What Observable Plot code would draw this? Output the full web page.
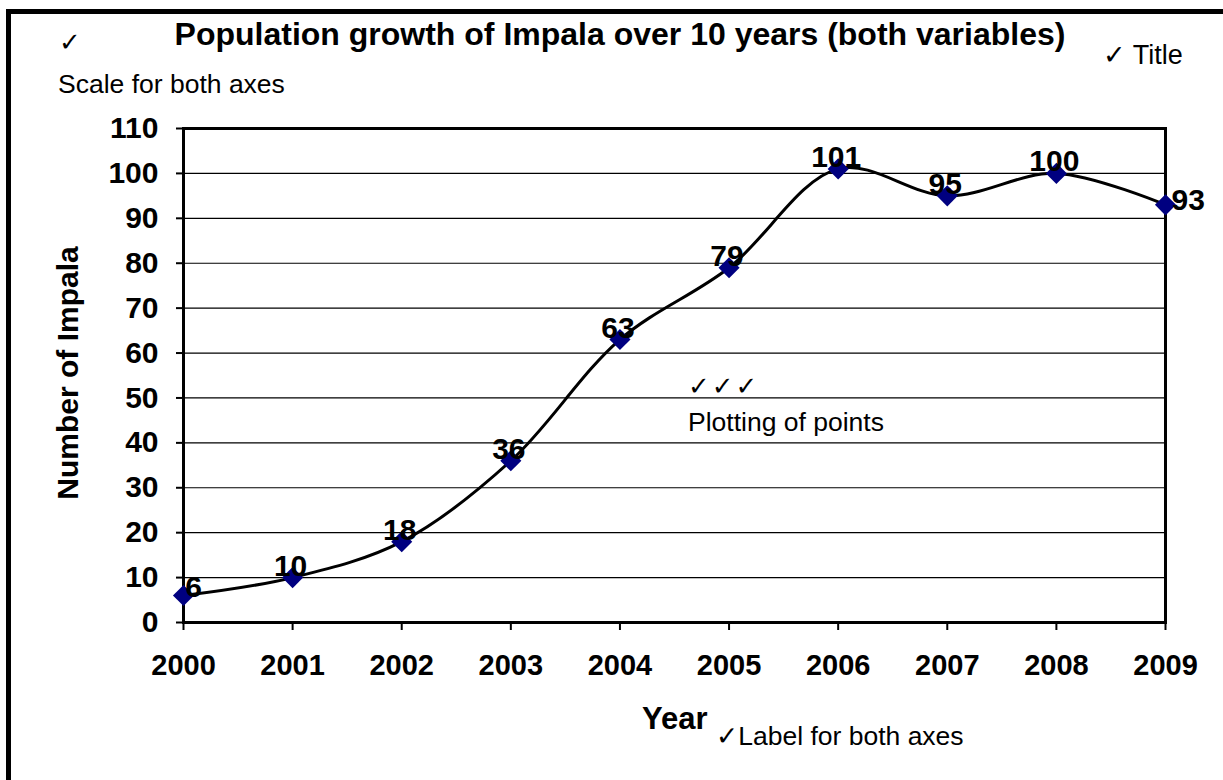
<!DOCTYPE html>
<html>
<head>
<meta charset="utf-8">
<script src="https://cdn.jsdelivr.net/npm/d3@7"></script>
<script src="https://cdn.jsdelivr.net/npm/@observablehq/plot@0.6"></script>
<style>
  html, body { margin: 0; padding: 0; background: #fff; overflow: hidden; }
  #wrap { position: relative; width: 1223px; height: 780px; overflow: hidden; font-family: "Liberation Sans", Arial, "DejaVu Sans", sans-serif; color: #000; }
  #border { position: absolute; left: 6px; top: 9px; width: 1300px; height: 900px; border: 5px solid #000; box-sizing: border-box; }
  .ann { position: absolute; white-space: nowrap; line-height: 1; }
  #chart { position: absolute; left: 0; top: 0; }
</style>
</head>
<body>
<div id="wrap">
  <div id="border"></div>
  <div id="chart"></div>
</div>
<script>
const years = [2000, 2001, 2002, 2003, 2004, 2005, 2006, 2007, 2008, 2009];
const impala = [6, 10, 18, 36, 63, 79, 101, 95, 100, 93];
const yTicks = [0, 10, 20, 30, 40, 50, 60, 70, 80, 90, 100, 110];
const gridValues = [10, 20, 30, 40, 50, 60, 70, 80, 90, 100];
const titleText = "Population growth of Impala over 10 years (both variables)";
const yLabel = "Number of Impala";
const xLabel = "Year";
const annotations = {
  tick1: "✓",
  scale: "Scale for both axes",
  title: "✓ Title",
  points: "✓✓✓",
  plotting: "Plotting of points",
  label: "✓Label for both axes"
};

const data = years.map((y, i) => ({year: y, value: impala[i], i}));
const font = '"Liberation Sans", Arial, sans-serif';

const plot = Plot.plot({
  width: 1223,
  height: 780,
  marginLeft: 183,
  marginRight: 58,
  marginTop: 128,
  marginBottom: 158,
  style: {fontFamily: font, background: "transparent", overflow: "visible"},
  x: {domain: [2000, 2009], type: "linear"},
  y: {domain: [0, 110]},
  marks: [
    Plot.ruleY(gridValues, {stroke: "#000", strokeWidth: 1.2}),
    Plot.axisY({ticks: yTicks, tickSize: 7, tickPadding: 18, tickFormat: d => String(d), fontSize: 30, fontWeight: "bold", stroke: "#000", strokeWidth: 2, fill: "#000", label: null}),
    Plot.axisX({ticks: years, tickSize: 8, tickPadding: 24, tickFormat: d => String(d), fontSize: 29, fontWeight: "bold", stroke: "#000", strokeWidth: 2, fill: "#000", label: null}),
    Plot.frame({stroke: "#000", strokeWidth: 3}),
    Plot.line(data, {x: "year", y: "value", curve: "catmull-rom", stroke: "#000", strokeWidth: 3}),
    Plot.dot(data, {x: "year", y: "value", symbol: "diamond2", r: 9.5, fill: "#000080", stroke: "none"}),
    Plot.text(data.filter(d => d.i === 0), {x: "year", y: "value", text: d => String(d.value), fontSize: 30, fontWeight: "bold", fill: "#000", lineAnchor: "bottom", textAnchor: "middle", dx: 10, dy: 1}),
    Plot.text(data.filter(d => d.i > 0 && d.i < years.length - 1), {x: "year", y: "value", text: d => String(d.value), fontSize: 30, fontWeight: "bold", fill: "#000", lineAnchor: "bottom", textAnchor: "middle", dx: -2, dy: -2}),
    Plot.text(data.filter(d => d.i === years.length - 1), {x: "year", y: "value", text: d => String(d.value), fontSize: 30, fontWeight: "bold", fill: "#000", lineAnchor: "middle", textAnchor: "start", dx: 6, dy: -4})
  ]
});
document.getElementById("chart").appendChild(plot);

const wrap = document.getElementById("wrap");
function addText(txt, opts) {
  const el = document.createElement("div");
  el.className = "ann";
  el.textContent = txt;
  Object.assign(el.style, opts);
  wrap.appendChild(el);
  return el;
}
addText(titleText, {left: "620px", top: "18px", transform: "translateX(-50%)", fontSize: "32px", fontWeight: "bold"});
addText(annotations.tick1, {left: "59px", top: "29px", fontSize: "26px", fontFamily: '"DejaVu Sans", sans-serif'});
addText(annotations.scale, {left: "58px", top: "71px", fontSize: "26.5px"});
addText(annotations.title, {left: "1103px", top: "42px", fontSize: "27px"});
addText(annotations.points, {left: "688px", top: "373px", fontSize: "26px", fontFamily: '"DejaVu Sans", sans-serif', letterSpacing: "2px"});
addText(annotations.plotting, {left: "688px", top: "409px", fontSize: "26.5px"});
addText(xLabel, {left: "642px", top: "703px", fontSize: "31px", fontWeight: "bold"});
addText(annotations.label, {left: "716px", top: "723px", fontSize: "26.5px"});
addText(yLabel, {left: "68px", top: "373px", fontSize: "30px", fontWeight: "bold", transform: "translate(-50%, -50%) rotate(-90deg)"});
</script>
</body>
</html>
